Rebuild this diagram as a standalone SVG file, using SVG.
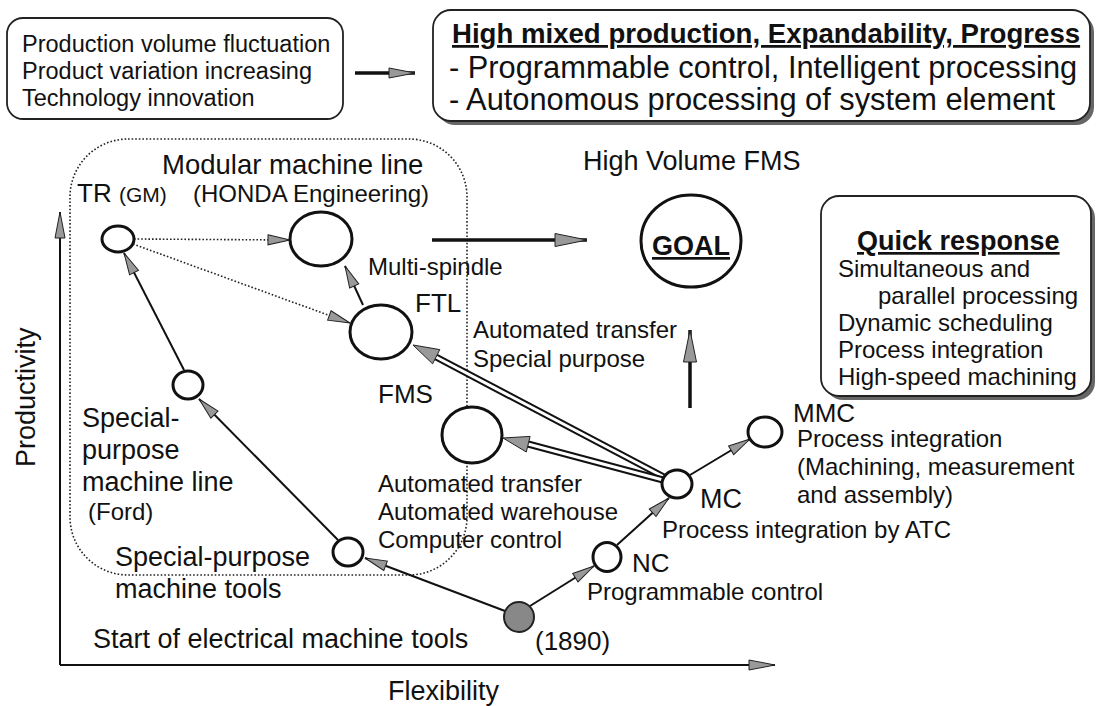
<svg xmlns="http://www.w3.org/2000/svg" width="1098" height="706" viewBox="0 0 1098 706">
<defs>
<style>
text{font-family:"Liberation Sans",Arial,sans-serif;fill:#111}
.f23{font-size:24px}
.f19{font-size:21px}
.f26{font-size:26px}
.f27{font-size:27px}
.f30{font-size:30.8px}
.b{font-weight:bold;text-decoration:underline}
.node{fill:#fff;stroke:#111;stroke-width:3}
.box{fill:#fff;stroke:#222;stroke-width:1.8}
.shadow{fill:#666}
.ln{stroke:#111;stroke-width:2;fill:none}
.thick{stroke:#111;stroke-width:3.5;fill:none}
.dot{stroke:#222;stroke-width:1.6;stroke-dasharray:1.6 2;fill:none}
.head{fill:#999;stroke:#222;stroke-width:1}
.dbl-o{stroke:#111;stroke-width:7;fill:none}
.dbl-i{stroke:#fff;stroke-width:3;fill:none}
</style>
<marker id="ah" markerUnits="userSpaceOnUse" viewBox="0 0 22 10" refX="22" refY="5" markerWidth="22" markerHeight="10" orient="auto" overflow="visible"><path d="M0,0 L22,5 L0,10 Z" class="head"/></marker>
<marker id="ahb" markerUnits="userSpaceOnUse" viewBox="0 0 32 13" refX="32" refY="6.5" markerWidth="32" markerHeight="13" orient="auto" overflow="visible"><path d="M0,0 L32,6.5 L0,13 Z" class="head"/></marker>
<marker id="ahx" markerUnits="userSpaceOnUse" viewBox="0 0 26 10" refX="26" refY="5" markerWidth="26" markerHeight="10" orient="auto" overflow="visible"><path d="M0,0 L26,5 L0,10 Z" class="head"/></marker>
</defs>
<rect width="1098" height="706" fill="#fff"/>

<g id="region">
<rect x="70" y="139" width="397" height="436" rx="58" ry="58" class="dot"/>
</g>

<g id="axes">
<path d="M60,665 L60,212" class="ln" marker-end="url(#ahx)"/>
<path d="M60,665 L775,665" class="ln" marker-end="url(#ahx)"/>
<text class="f27" transform="translate(35,467) rotate(-90)">Productivity</text>
<text class="f27" x="388" y="700">Flexibility</text>
</g>

<g id="drivers">
<rect x="7" y="18" width="336" height="101" rx="16" class="box"/>
<text x="22" y="52" font-size="23.5">Production volume fluctuation</text>
<text x="22" y="79" font-size="23.5">Product variation increasing</text>
<text x="22" y="106" font-size="23.5">Technology innovation</text>
</g>

<g id="goals">
<rect x="437" y="14" width="657" height="111" rx="18" class="shadow"/>
<rect x="433" y="10" width="657" height="111" rx="18" class="box"/>
<text class="b" x="452" y="43" font-size="27.6">High mixed production, Expandability, Progress</text>
<text class="f30" x="449" y="78">- Programmable control, Intelligent processing</text>
<text class="f30" x="449" y="110">- Autonomous processing of system element</text>
</g>

<g id="quick">
<rect x="825" y="200" width="270" height="200" rx="18" class="shadow"/>
<rect x="821" y="196" width="270" height="200" rx="18" class="box"/>
<text class="f27 b" x="857" y="250">Quick response</text>
<text class="f23" x="838" y="277">Simultaneous and</text>
<text class="f23" x="878" y="304">parallel processing</text>
<text class="f23" x="838" y="331">Dynamic scheduling</text>
<text class="f23" x="838" y="358">Process integration</text>
<text class="f23" x="838" y="385">High-speed machining</text>
</g>

<g id="connectors">
<path d="M355,73 L415,73" class="thick" marker-end="url(#ahx)"/>
<path d="M432,240 L587,240" class="thick" marker-end="url(#ahb)"/>
<path d="M690,408 L690,330" class="thick" marker-end="url(#ahb)"/>
<path d="M134,239 L290,240" class="dot" marker-end="url(#ah)"/>
<path d="M133,244 L350,323" class="dot" marker-end="url(#ah)"/>
<path d="M363,305 L345,266" class="ln" marker-end="url(#ah)"/>
<path d="M184,370 L124,253" class="ln" marker-end="url(#ah)"/>
<path d="M338,540 L199,399" class="ln" marker-end="url(#ah)"/>
<path d="M505,611 L365,558" class="ln" marker-end="url(#ah)"/>
<path d="M530,606 L594,566" class="ln" marker-end="url(#ah)"/>
<path d="M617,545 L669,498" class="ln" marker-end="url(#ah)"/>
<path d="M690,475 L750,439" class="ln" marker-end="url(#ah)"/>
<path d="M664,477 L436,357" class="dbl-o"/>
<path d="M664,477 L436,357" class="dbl-i"/>
<polygon points="413,345 439.8,349.6 432.6,363.8" class="head"/>
<path d="M663,480 L528,444" class="dbl-o"/>
<path d="M663,480 L528,444" class="dbl-i"/>
<polygon points="503,438 530.1,436.4 526.3,452" class="head"/>
</g>

<g id="node-tr">
<ellipse cx="118" cy="239" rx="16" ry="13" class="node"/>
<text class="f26" x="77" y="202">TR <tspan class="f19">(GM)</tspan></text>
</g>
<g id="node-modular">
<ellipse cx="321" cy="239" rx="31" ry="27" class="node"/>
<text x="162" y="174" font-size="27.5">Modular machine line</text>
<text class="f23" x="193" y="202">(HONDA Engineering)</text>
<text class="f23" x="368" y="275">Multi-spindle</text>
</g>
<g id="node-goal">
<text class="f27" x="583" y="170">High Volume FMS</text>
<ellipse cx="691" cy="241" rx="50" ry="46" class="node"/>
<text class="f27 b" x="691" y="255" text-anchor="middle">GOAL</text>
</g>
<g id="node-ftl">
<ellipse cx="381" cy="332" rx="31" ry="27" class="node"/>
<text class="f26" x="415" y="312">FTL</text>
<text class="f23" x="473" y="338">Automated transfer</text>
<text class="f23" x="473" y="367">Special purpose</text>
</g>
<g id="node-fms">
<ellipse cx="472" cy="435" rx="30" ry="28" class="node"/>
<text class="f26" x="378" y="403">FMS</text>
<text class="f23" x="378" y="492">Automated transfer</text>
<text class="f23" x="378" y="520">Automated warehouse</text>
<text class="f23" x="378" y="548">Computer control</text>
</g>
<g id="node-spline">
<ellipse cx="188" cy="385" rx="15" ry="14" class="node"/>
<text class="f27" x="82" y="427">Special-</text>
<text class="f27" x="82" y="459">purpose</text>
<text class="f27" x="82" y="491">machine line</text>
<text class="f23" x="88" y="520">(Ford)</text>
</g>
<g id="node-spt">
<ellipse cx="348" cy="552" rx="15" ry="14" class="node"/>
<text class="f27" x="115" y="566">Special-purpose</text>
<text class="f27" x="115" y="598">machine tools</text>
</g>
<g id="node-start">
<circle cx="519" cy="617" r="15" fill="#888" stroke="#222" stroke-width="2"/>
<text class="f27" x="93" y="648">Start of electrical machine tools</text>
<text class="f26" x="535" y="650">(1890)</text>
</g>
<g id="node-nc">
<ellipse cx="607" cy="557" rx="14" ry="14.5" class="node"/>
<text class="f26" x="632" y="572">NC</text>
<text class="f23" x="587" y="600">Programmable control</text>
</g>
<g id="node-mc">
<ellipse cx="677" cy="484" rx="15" ry="14" class="node"/>
<text class="f27" x="700" y="508">MC</text>
<text class="f23" x="662" y="538">Process integration by ATC</text>
</g>
<g id="node-mmc">
<ellipse cx="765" cy="432" rx="17" ry="15" class="node"/>
<text class="f26" x="793" y="422">MMC</text>
<text class="f23" x="797" y="447">Process integration</text>
<text class="f23" x="797" y="475">(Machining, measurement</text>
<text class="f23" x="797" y="503">and assembly)</text>
</g>
</svg>
